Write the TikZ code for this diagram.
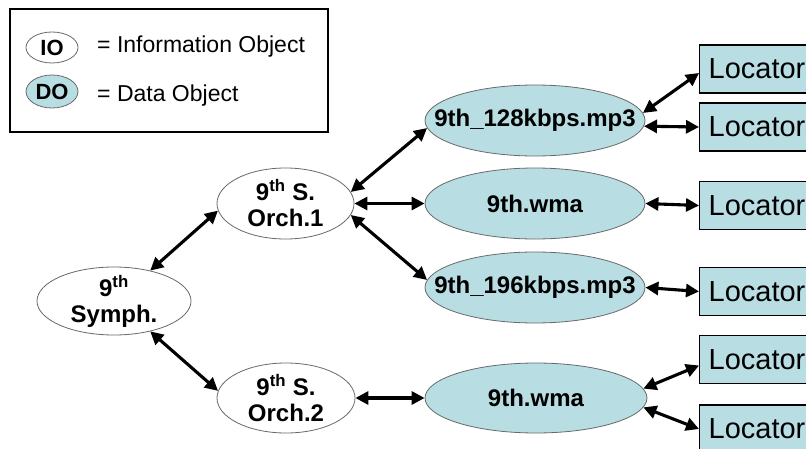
\documentclass[tikz,border=0pt]{standalone}
\usepackage{fontspec}
\setmainfont{Liberation Sans}
\usetikzlibrary{shapes.geometric,arrows.meta}
\definecolor{dofill}{RGB}{184,222,228}
\definecolor{edgegray}{RGB}{105,105,105}
\tikzset{
  iobj/.style={ellipse,draw=edgegray,line width=0.8pt,fill=white,inner sep=0pt},
  dobj/.style={iobj,fill=dofill},
  lbl/.style={font=\fontsize{24}{26}\selectfont\bfseries,align=center,inner sep=0pt},
  smalllbl/.style={font=\fontsize{22}{26}\selectfont\bfseries,inner sep=0pt},
  legtext/.style={anchor=base west,font=\fontsize{23}{27}\selectfont,inner sep=0pt},
  locbox/.style={draw=black,line width=1.3pt,fill=dofill,anchor=west,minimum height=48pt,
    inner xsep=9pt,font=\fontsize{29}{34}\selectfont},
  link/.style={line width=3.1pt,{Triangle[length=13pt,width=13pt]}-{Triangle[length=13pt,width=13pt]}}
}
\begin{document}
\begin{tikzpicture}[x=1pt,y=-1pt]
\useasboundingbox (0,0) rectangle (806,449);
\clip (0,0) rectangle (806,449);
\fill[white] (0,0) rectangle (806,449);

% legend
\draw[line width=1.3pt] (10,9) rectangle (328,132);
\node[iobj,minimum width=52pt,minimum height=31pt,label={[smalllbl]center:{IO}}] (legio) at (52,47.5) {};
\node[dobj,minimum width=52pt,minimum height=33pt,label={[smalllbl]center:{DO}}] (legdo) at (52,91.5) {};
\node[legtext] (legiot) at (97,52.5) {= Information Object};
\node[legtext] (legdot) at (97,101.5) {= Data Object};

% information objects
\node[iobj,minimum width=154pt,minimum height=68pt,label={[lbl]center:{9\textsuperscript{th}\\Symph.}}] (sym) at (114,301) {};
\node[iobj,minimum width=137pt,minimum height=71pt,label={[lbl]center:{9\textsuperscript{th} S.\\Orch.1}}] (o1) at (285.5,203.5) {};
\node[iobj,minimum width=138pt,minimum height=70pt,label={[lbl]center:{9\textsuperscript{th} S.\\Orch.2}}] (o2) at (286,398) {};

% data objects
\node[dobj,minimum width=220pt,minimum height=71pt,label={[lbl]center:{9th\_128kbps.mp3}}] (m128) at (535,120.5) {};
\node[dobj,minimum width=220pt,minimum height=71pt,label={[lbl]center:{9th.wma}}] (wma1) at (535,203.5) {};
\node[dobj,minimum width=220pt,minimum height=71pt,label={[lbl]center:{9th\_196kbps.mp3}}] (m196) at (535,287.5) {};
\node[dobj,minimum width=222pt,minimum height=70pt,label={[lbl]center:{9th.wma}}] (wma2) at (536,398) {};

% locators
\node[locbox] (loc1) at (699,69) {Locator};
\node[locbox] (loc2) at (699,127) {Locator};
\node[locbox] (loc3) at (699,205.5) {Locator};
\node[locbox] (loc4) at (699,291.5) {Locator};
\node[locbox] (loc5) at (699,359.5) {Locator};
\node[locbox] (loc6) at (699,429) {Locator};

% connectors
\draw[link] (sym.40) -- (o1.186);
\draw[link] (sym.-40) -- (o2.174);
\draw[link] (o1.10) -- (m128.184);
\draw[link] (o1.east) -- (wma1.west);
\draw[link] (o1.-10) -- (m196.176);
\draw[link] (o2.east) -- (wma2.west);
\draw[link] (m128.4) -- ([yshift=-4pt]loc1.west);
\draw[link] (m128.-3) -- (loc2.west);
\draw[link] (wma1.east) -- (loc3.west);
\draw[link] (m196.east) -- (loc4.west);
\draw[link] (wma2.5) -- ([yshift=-6pt]loc5.west);
\draw[link] (wma2.-5) -- (loc6.west);
\end{tikzpicture}
\end{document}
